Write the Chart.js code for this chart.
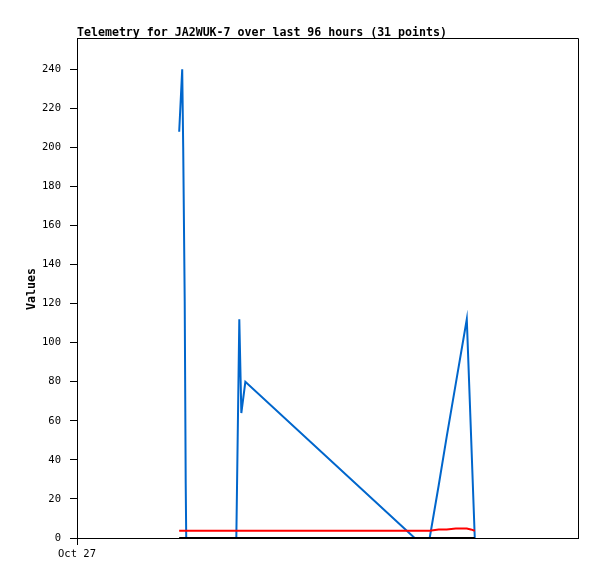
<!DOCTYPE html>
<html>
<head>
<meta charset="utf-8">
<title>Telemetry for JA2WUK-7</title>
<script src="https://cdn.jsdelivr.net/npm/chart.js@4/dist/chart.umd.min.js"></script>
<style>
  body { margin: 0; background: #fff; }
  #chart { display: block; }
</style>
</head>
<body>
<canvas id="chart" width="597" height="579"></canvas>
<script>
// hours after Oct 27 00:00 (96 hour window)
const hours = [19.58, 20.16, 20.35, 20.64, 20.83, 20.93, 22.66, 24.58, 26.50, 28.42,
  30.53, 31.10, 31.49, 32.26, 64.70, 67.58, 69.31, 70.85, 72.58, 74.69, 75.46, 76.22];
const blueValues = [208, 240, 200, 121, 28, 0, 0, 0, 0, 0,
  0, 112, 64, 80, 0, 0, 27, 52, 79, 112, 56, 0];
const redValues = [3.7, 3.7, 3.7, 3.7, 3.7, 3.7, 3.7, 3.7, 3.7, 3.7,
  3.7, 3.7, 3.7, 3.7, 3.7, 3.7, 4.4, 4.4, 4.9, 4.9, 4.4, 3.7];
const blackValues = [0, 0, 0, 0, 0, 0, 0, 0, 0, 0,
  0, 0, 0, 0, 0, 0, 0, 0, 0, 0, 0, 0];
const yTicks = [0, 20, 40, 60, 80, 100, 120, 140, 160, 180, 200, 220, 240];
const xTicks = [0];
const xTickLabels = ['Oct 27'];

const titleText = 'Telemetry for JA2WUK-7 over last 96 hours (31 points)';
const mono = '"DejaVu Sans Mono", "Liberation Mono", monospace';

function points(vals) {
  return vals.map((v, i) => ({ x: hours[i], y: v }));
}

// title, axis title and the top/right frame lines
const frame = {
  id: 'frame',
  afterDraw(chart) {
    const ctx = chart.ctx;
    const a = chart.chartArea;
    ctx.save();
    ctx.strokeStyle = '#000';
    ctx.lineWidth = 1;
    ctx.beginPath();
    ctx.moveTo(a.left, a.top + 0.5);
    ctx.lineTo(a.right + 0.5, a.top + 0.5);
    ctx.lineTo(a.right + 0.5, a.bottom);
    ctx.stroke();

    ctx.fillStyle = '#000';
    ctx.font = 'bold 11.6px ' + mono;
    ctx.textBaseline = 'alphabetic';
    ctx.textAlign = 'left';
    ctx.fillText(titleText, a.left, 35.5);

    ctx.translate(32, 289);
    ctx.rotate(-Math.PI / 2);
    ctx.textAlign = 'center';
    ctx.textBaseline = 'middle';
    ctx.fillText('Values', 0, 0);
    ctx.restore();
  }
};

new Chart(document.getElementById('chart'), {
  type: 'line',
  data: {
    datasets: [
      { data: points(blueValues), borderColor: '#0066cc', borderWidth: 2, order: 3 },
      { data: points(redValues), borderColor: '#ff0000', borderWidth: 2, order: 2 },
      { data: points(blackValues), borderColor: '#000000', borderWidth: 2, order: 1 }
    ]
  },
  options: {
    responsive: false,
    animation: false,
    events: [],
    layout: { padding: { top: 38, right: 19, left: 0, bottom: 0 } },
    elements: {
      point: { radius: 0 },
      line: { tension: 0, borderJoinStyle: 'miter', borderCapStyle: 'butt' }
    },
    datasets: { line: { clip: false } },
    plugins: { legend: { display: false }, title: { display: false }, tooltip: { enabled: false } },
    scales: {
      x: {
        type: 'linear',
        min: 0,
        max: 96,
        afterBuildTicks: s => { s.ticks = xTicks.map(v => ({ value: v })); },
        afterFit: s => { s.height = 41; },
        ticks: {
          autoSkip: false,
          maxRotation: 0,
          padding: 3,
          color: '#000',
          font: { family: mono, size: 10.5 },
          callback: (v, i) => xTickLabels[i]
        },
        grid: { drawOnChartArea: false, drawTicks: true, tickLength: 7, color: '#000' },
        border: { display: true, color: '#000', width: 1 }
      },
      y: {
        min: 0,
        max: 256,
        afterBuildTicks: s => { s.ticks = yTicks.map(v => ({ value: v })); },
        afterFit: s => { s.width = 77; },
        ticks: {
          autoSkip: false,
          padding: 9,
          color: '#000',
          font: { family: mono, size: 10.5 }
        },
        grid: { drawOnChartArea: false, drawTicks: true, tickLength: 7, color: '#000' },
        border: { display: true, color: '#000', width: 1 }
      }
    }
  },
  plugins: [frame]
});
</script>
</body>
</html>
